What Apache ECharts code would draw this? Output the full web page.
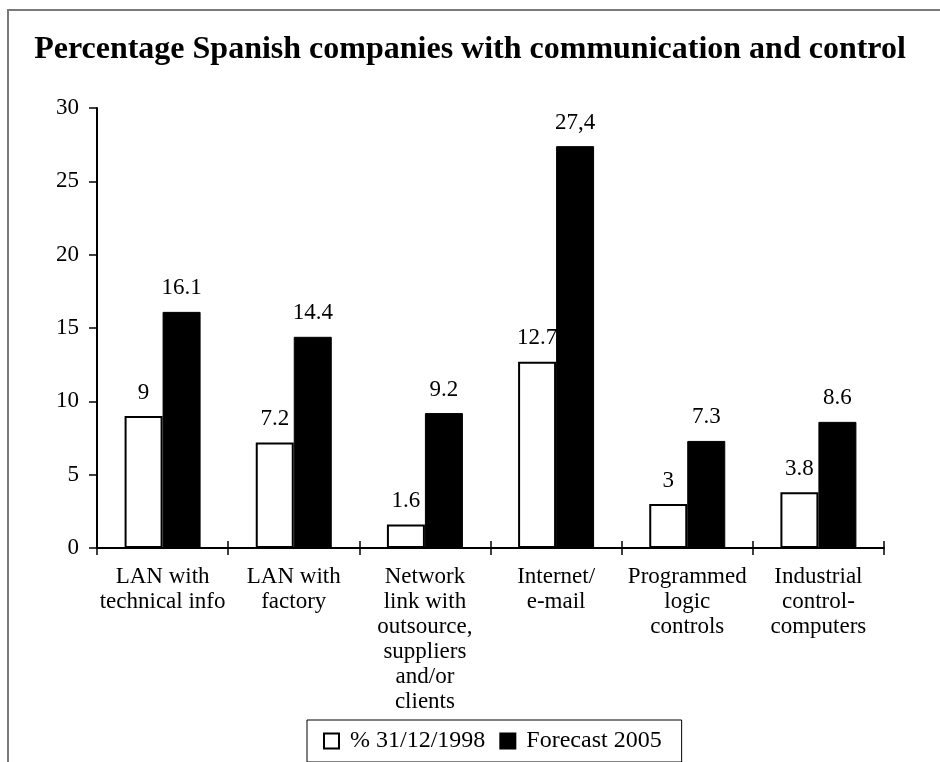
<!DOCTYPE html>
<html>
<head>
<meta charset="utf-8">
<title>Percentage Spanish companies with communication and control</title>
<script src="https://cdn.jsdelivr.net/npm/echarts@6/dist/echarts.min.js"></script>
<style>
  html, body { margin: 0; padding: 0; background: #fff; }
  #chart { width: 940px; height: 762px; }
</style>
</head>
<body>
<div id="chart"></div>
<script>
// Categories (multi-line labels) and the two series of percentages
const categories = [
  'LAN with\ntechnical info',
  'LAN with\nfactory',
  'Network\nlink with\noutsource,\nsuppliers\nand/or\nclients',
  'Internet/\ne-mail',
  'Programmed\nlogic\ncontrols',
  'Industrial\ncontrol-\ncomputers'
];
const values1998 = [9, 7.2, 1.6, 12.7, 3, 3.8];
const values2005 = [16.1, 14.4, 9.2, 27.4, 7.3, 8.6];
// Printed value labels for the forecast bars
const labels2005 = ['16.1', '14.4', '9.2', '27,4', '7.3', '8.6'];
const yTicks = [0, 5, 10, 15, 20, 25, 30];

const FONT = "'Liberation Serif', 'Times New Roman', serif";
const FS = 23;
const chart = echarts.init(document.getElementById('chart'), null, { renderer: 'canvas' });

const labelStyle = {
  show: true,
  position: 'top',
  distance: 12,
  color: '#000',
  fontFamily: FONT,
  fontSize: FS
};

chart.setOption({
  animation: false,
  backgroundColor: '#fff',
  textStyle: { fontFamily: FONT, color: '#000' },
  graphic: [{
    type: 'rect',
    shape: { x: 8, y: 10, width: 960, height: 800 },
    style: { fill: 'none', stroke: '#7a7a7a', lineWidth: 2 },
    silent: true,
    z: -10
  }],
  title: {
    text: 'Percentage Spanish companies with communication and control',
    left: 'center',
    top: 29,
    textStyle: { fontFamily: FONT, fontWeight: 'bold', fontSize: 32, color: '#000' }
  },
  legend: {
    left: 307,
    top: 720,
    icon: 'rect',
    itemWidth: 15,
    itemHeight: 15,
    itemGap: 14,
    padding: [9, 20, 9, 16],
    borderColor: '#000',
    borderWidth: 1,
    textStyle: { fontFamily: FONT, fontSize: 24, color: '#000', padding: [0, 0, 0, 6] },
    data: ['% 31/12/1998', 'Forecast 2005']
  },
  grid: { left: 97, right: 56, top: 108, bottom: 214 },
  xAxis: [{
    type: 'category',
    data: categories,
    axisLine: { lineStyle: { color: '#000', width: 2 } },
    axisTick: { show: true, length: 7, lineStyle: { color: '#000', width: 1.5 } },
    axisLabel: {
      margin: 16,
      interval: 0,
      color: '#000',
      fontFamily: FONT,
      fontSize: FS,
      lineHeight: 25
    }
  }, {
    type: 'category',
    data: categories,
    position: 'bottom',
    axisLine: { show: false },
    axisTick: { show: true, inside: true, length: 7, lineStyle: { color: '#000', width: 1.5 } },
    axisLabel: { show: false }
  }],
  yAxis: {
    type: 'value',
    min: yTicks[0],
    max: yTicks[yTicks.length - 1],
    interval: 5,
    splitLine: { show: false },
    axisLine: { show: true, lineStyle: { color: '#000', width: 2 } },
    axisTick: { show: true, length: 8, lineStyle: { color: '#000', width: 1.5 } },
    axisLabel: { margin: 18, color: '#000', fontFamily: FONT, fontSize: FS }
  },
  series: [{
    name: '% 31/12/1998',
    type: 'bar',
    xAxisIndex: 0,
    data: values1998,
    barWidth: 38,
    barGap: '0%',
    itemStyle: { color: '#fff', borderColor: '#000', borderWidth: 2 },
    label: labelStyle
  }, {
    name: 'Forecast 2005',
    type: 'bar',
    xAxisIndex: 0,
    data: values2005,
    barWidth: 38,
    barGap: '0%',
    itemStyle: { color: '#000', borderColor: '#000', borderWidth: 1 },
    label: Object.assign({}, labelStyle, {
      formatter: p => labels2005[p.dataIndex]
    })
  }]
});
</script>
</body>
</html>
